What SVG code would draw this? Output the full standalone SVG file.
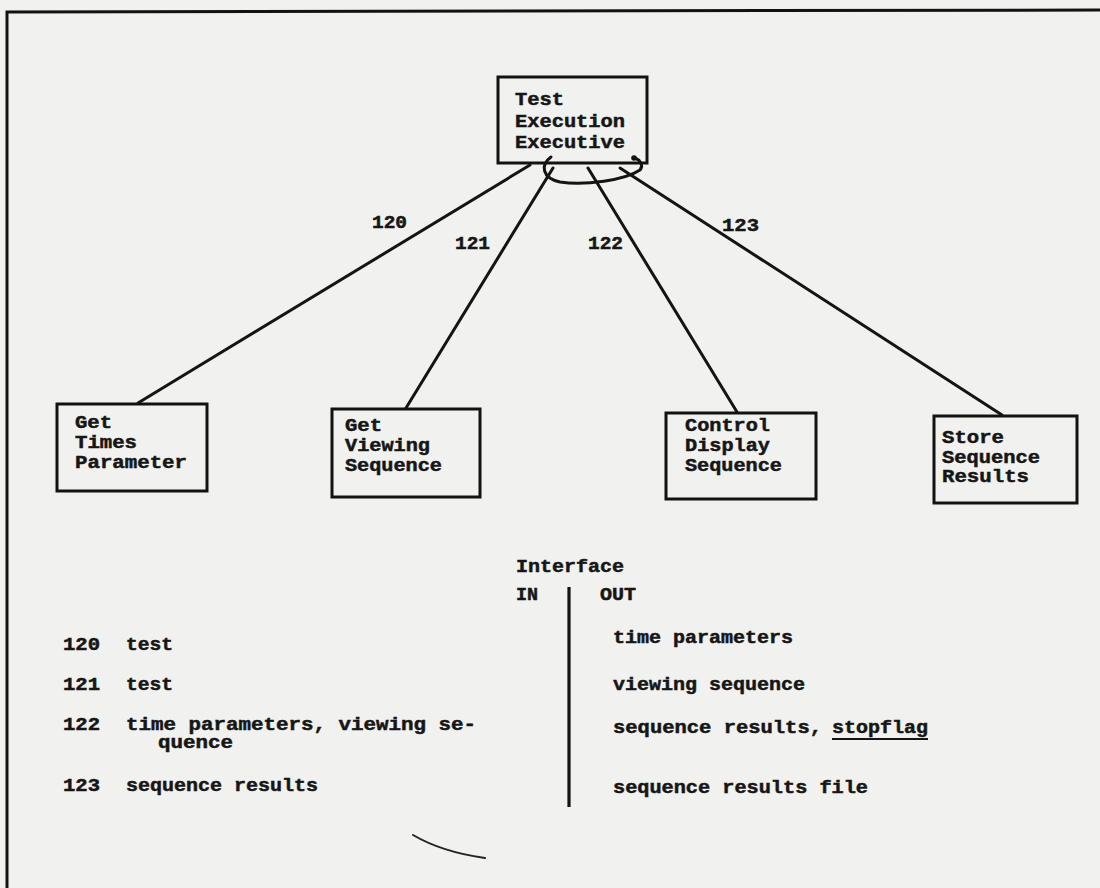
<svg xmlns="http://www.w3.org/2000/svg" width="1100" height="888" viewBox="0 0 1100 888">
  <style>
    .box { fill: none; stroke: #121212; stroke-width: 3; }
    .edge { fill: none; stroke: #141414; stroke-width: 3; stroke-linecap: round; }
    .t { font-family: "Liberation Mono", "DejaVu Sans Mono", monospace; font-weight: bold; fill: #161616; stroke: #161616; stroke-width: 0.5; }
    .bx { font-size: 18px; }
    .lb { font-size: 18px; }
    .tx { font-size: 18px; }
  </style>
  <rect width="1100" height="888" fill="#f1f1ef"/>

  <!-- page frame -->
  <path d="M7,888 L7,12 L1100,10" fill="none" stroke="#121212" stroke-width="3"/>

  <g id="connectors">
    <line class="edge" x1="530" y1="165" x2="138" y2="403"/>
    <line class="edge" x1="553" y1="168" x2="406" y2="408"/>
    <line class="edge" x1="588" y1="168" x2="737" y2="412"/>
    <line class="edge" x1="620" y1="168" x2="1002" y2="415"/>
    <!-- loop under the executive -->
    <path class="edge" d="M551,157 C540,165 542,178 560,182 C585,186 625,180 640,170 C644,165 640,160 635,158"/>
    <circle cx="634" cy="158" r="2.8" fill="#141414"/>
    <text class="t lb" x="372" y="228" textLength="35" lengthAdjust="spacingAndGlyphs">120</text>
    <text class="t lb" x="455" y="249" textLength="35" lengthAdjust="spacingAndGlyphs">121</text>
    <text class="t lb" x="588" y="249" textLength="35" lengthAdjust="spacingAndGlyphs">122</text>
    <text class="t lb" x="722" y="231" textLength="37" lengthAdjust="spacingAndGlyphs">123</text>
  </g>

  <g id="test-execution-executive">
    <rect class="box" x="498" y="77" width="149" height="86"/>
    <text class="t bx" x="515" y="105" textLength="49" lengthAdjust="spacingAndGlyphs">Test</text>
    <text class="t bx" x="515" y="127" textLength="110" lengthAdjust="spacingAndGlyphs">Execution</text>
    <text class="t bx" x="515" y="148" textLength="110" lengthAdjust="spacingAndGlyphs">Executive</text>
  </g>

  <g id="get-times-parameter">
    <rect class="box" x="57" y="404" width="150" height="87"/>
    <text class="t bx" x="75" y="428" textLength="37" lengthAdjust="spacingAndGlyphs">Get</text>
    <text class="t bx" x="75" y="448" textLength="62" lengthAdjust="spacingAndGlyphs">Times</text>
    <text class="t bx" x="75" y="468" textLength="112" lengthAdjust="spacingAndGlyphs">Parameter</text>
  </g>

  <g id="get-viewing-sequence">
    <rect class="box" x="332" y="409" width="148" height="88"/>
    <text class="t bx" x="345" y="431" textLength="37" lengthAdjust="spacingAndGlyphs">Get</text>
    <text class="t bx" x="345" y="451" textLength="85" lengthAdjust="spacingAndGlyphs">Viewing</text>
    <text class="t bx" x="345" y="471" textLength="97" lengthAdjust="spacingAndGlyphs">Sequence</text>
  </g>

  <g id="control-display-sequence">
    <rect class="box" x="666" y="413" width="150" height="86"/>
    <text class="t bx" x="685" y="431" textLength="85" lengthAdjust="spacingAndGlyphs">Control</text>
    <text class="t bx" x="685" y="451" textLength="85" lengthAdjust="spacingAndGlyphs">Display</text>
    <text class="t bx" x="685" y="471" textLength="97" lengthAdjust="spacingAndGlyphs">Sequence</text>
  </g>

  <g id="store-sequence-results">
    <rect class="box" x="934" y="416" width="143" height="87"/>
    <text class="t bx" x="942" y="443" textLength="62" lengthAdjust="spacingAndGlyphs">Store</text>
    <text class="t bx" x="942" y="463" textLength="98" lengthAdjust="spacingAndGlyphs">Sequence</text>
    <text class="t bx" x="942" y="482" textLength="87" lengthAdjust="spacingAndGlyphs">Results</text>
  </g>

  <g id="interface-table">
    <text class="t tx" x="516" y="572" textLength="108" lengthAdjust="spacingAndGlyphs">Interface</text>
    <text class="t tx" x="516" y="600" textLength="22" lengthAdjust="spacingAndGlyphs">IN</text>
    <text class="t tx" x="600" y="600" textLength="36" lengthAdjust="spacingAndGlyphs">OUT</text>
    <line x1="569" y1="587" x2="569" y2="807" stroke="#141414" stroke-width="3.2"/>

    <text class="t tx" x="63" y="650" textLength="37" lengthAdjust="spacingAndGlyphs">120</text>
    <text class="t tx" x="126" y="650" textLength="47" lengthAdjust="spacingAndGlyphs">test</text>
    <text class="t tx" x="63" y="690" textLength="37" lengthAdjust="spacingAndGlyphs">121</text>
    <text class="t tx" x="126" y="690" textLength="47" lengthAdjust="spacingAndGlyphs">test</text>
    <text class="t tx" x="63" y="730" textLength="37" lengthAdjust="spacingAndGlyphs">122</text>
    <text class="t tx" x="126" y="730" textLength="350" lengthAdjust="spacingAndGlyphs">time parameters, viewing se-</text>
    <text class="t tx" x="158" y="748" textLength="75" lengthAdjust="spacingAndGlyphs">quence</text>
    <text class="t tx" x="63" y="791" textLength="37" lengthAdjust="spacingAndGlyphs">123</text>
    <text class="t tx" x="126" y="791" textLength="192" lengthAdjust="spacingAndGlyphs">sequence results</text>

    <text class="t tx" x="613" y="643" textLength="180" lengthAdjust="spacingAndGlyphs">time parameters</text>
    <text class="t tx" x="613" y="690" textLength="192" lengthAdjust="spacingAndGlyphs">viewing sequence</text>
    <text class="t tx" x="613" y="733" textLength="209" lengthAdjust="spacingAndGlyphs">sequence results,</text>
    <text class="t tx" x="832" y="733" textLength="96" lengthAdjust="spacingAndGlyphs">stopflag</text>
    <line x1="832" y1="739" x2="928" y2="739" stroke="#141414" stroke-width="2"/>
    <text class="t tx" x="613" y="793" textLength="255" lengthAdjust="spacingAndGlyphs">sequence results file</text>
  </g>

  <!-- pencil stroke near the foot of the sheet -->
  <path d="M413,835 Q442,852 485,858" fill="none" stroke="#222" stroke-width="2" stroke-linecap="round"/>
</svg>
